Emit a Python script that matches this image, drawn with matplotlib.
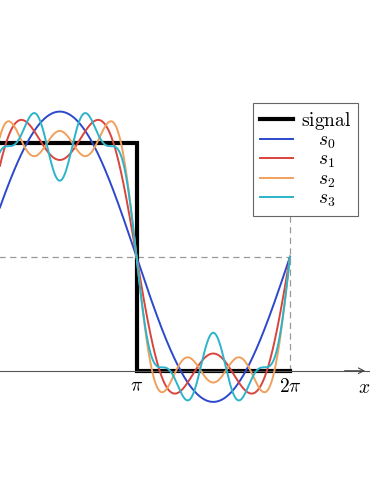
import numpy as np
import matplotlib.pyplot as plt
from matplotlib.lines import Line2D

plt.rcParams['mathtext.fontset'] = 'cm'
plt.rcParams['font.family'] = ['DejaVu Serif']

# square wave on [0, 2pi]
signal_x = [0, np.pi, np.pi, 2 * np.pi]
signal_y = [1, 1, 0, 0]

# sine amplitudes for harmonics 1, 3, 5, 7
harmonics = [1, 3, 5, 7]
amp_s0 = [1, 0, 0, 0]
amp_s1 = [1, 1 / 3, 0, 0]
amp_s2 = [1, 1 / 3, 1 / 5, 0]
amp_s3 = [1, 1 / 3, 0, 1 / 7]

labels = [r'$\mathrm{signal}$', r'$\quad s_0$', r'$\quad s_1$', r'$\quad s_2$', r'$\quad s_3$']
colors = ['#2c48cc', '#d9443c', '#f0a05c', '#2bb4ca']

xs = np.linspace(0, 2 * np.pi, 1200)


def partial_sum(amps):
    y = np.full_like(xs, 0.5)
    for k, a in zip(harmonics, amps):
        y += 2 / np.pi * a * np.sin(k * xs)
    return y


fig = plt.figure(figsize=(3.7, 4.9), dpi=100)
ax = fig.add_axes([0, 0, 1, 1])
ax.set_xlim(0.348, 7.92)
ax.set_ylim(-0.523, 1.626)

# guide lines
ax.hlines(0.5, 0, 2 * np.pi, colors='#999999', lw=0.9, linestyles=(0, (5, 3.5)), zorder=1)
ax.vlines(2 * np.pi, 0, 1.0, colors='#999999', lw=0.9, linestyles=(0, (5, 3.5)), zorder=1)

ax.plot(signal_x, signal_y, color='black', lw=3, solid_joinstyle='miter', zorder=2)
for amps, c in zip([amp_s0, amp_s1, amp_s2, amp_s3], colors):
    ax.plot(xs, partial_sum(amps), color=c, lw=1.4, zorder=3)

# x axis with arrow
for side in ['left', 'right', 'top']:
    ax.spines[side].set_visible(False)
ax.spines['bottom'].set_position(('data', 0))
ax.spines['bottom'].set_color('#555555')
ax.spines['bottom'].set_linewidth(0.8)
ax.set_yticks([])
ax.set_xticks([np.pi, 2 * np.pi], [r'$\pi$', r'$2\pi$'])
ax.tick_params(axis='x', length=0, pad=5, labelsize=14)
ax.annotate('', xy=(7.82, 0), xytext=(7.4, 0),
            arrowprops=dict(arrowstyle='->', color='#444444', lw=0.8, shrinkA=0, shrinkB=0))
ax.text(7.79, -0.035, r'$x$', ha='center', va='top', fontsize=14)

handles = [Line2D([], [], color='black', lw=3)] + [Line2D([], [], color=c, lw=1.4) for c in colors]
leg = ax.legend(handles, labels, loc='upper right', bbox_to_anchor=(358 / 370, 1 - 103 / 490),
                bbox_transform=fig.transFigure, fancybox=False, framealpha=1, edgecolor='#666666',
                fontsize=14, handlelength=1.7, handletextpad=0.4, labelspacing=0.0,
                borderpad=0.35, borderaxespad=0)
leg.get_frame().set_linewidth(0.8)

fig.savefig('out.png', dpi=100)
